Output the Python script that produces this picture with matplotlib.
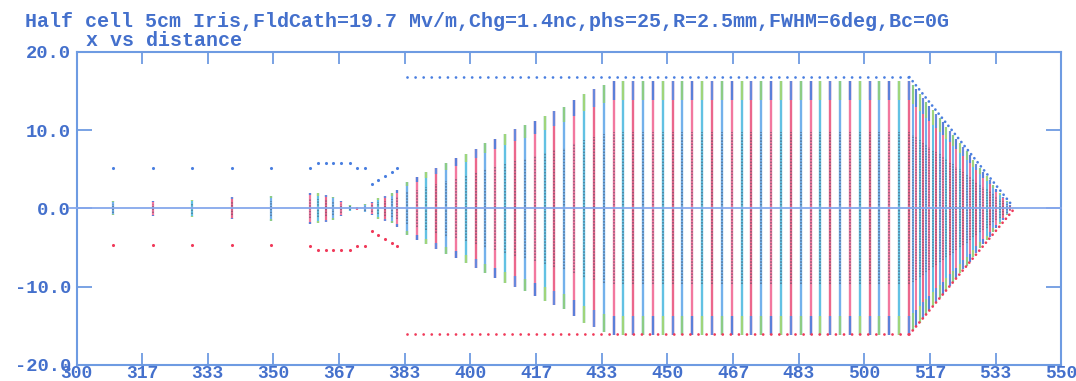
import matplotlib
matplotlib.use("Agg")
import matplotlib.pyplot as plt

# title lines
TITLE_1 = "Half cell 5cm Iris,FldCath=19.7 Mv/m,Chg=1.4nc,phs=25,R=2.5mm,FWHM=6deg,Bc=0G"
TITLE_2 = "x vs distance"

# axis ticks
x_ticks = [300, 316.7, 333.3, 350, 366.7, 383.3, 400, 416.7, 433.3, 450, 466.7, 483.3, 500, 516.7, 533.3, 550]
x_tick_labels = ["300", "317", "333", "350", "367", "383", "400", "417", "433", "450",
                 "467", "483", "500", "517", "533", "550"]
y_ticks = [-20, -10, 0, 10, 20]
y_tick_labels = ["-20.0", "-10.0", "0.0", "10.0", "20.0"]

# near the cathode: bunch snapshots and the envelope dots that go with them
near_z = [309.3, 319.3, 329.4, 339.5, 349.4, 359.3, 361.4, 363.3, 365.2, 367.1, 369.4,
          371.3, 373.2, 374.9, 376.6, 378.3, 380.0, 381.3]
near_halfwidth = [0.9, 1.0, 1.1, 1.4, 1.6, 2.0, 1.9, 1.7, 1.5, 0.95, 0.4,
                  0.2, 0.5, 0.85, 1.3, 1.6, 1.9, 2.35]
near_env_top = [5.2, 5.2, 5.2, 5.2, 5.2, 5.2, 5.75, 5.75, 5.75, 5.75, 5.75,
                5.2, 5.2, 3.1, 3.6, 4.1, 4.7, 5.2]
near_env_bot = [-4.7, -4.7, -4.7, -4.7, -4.7, -4.75, -5.3, -5.3, -5.3, -5.3, -5.3,
                -4.75, -4.75, -2.9, -3.4, -3.9, -4.4, -4.8]

# main drift: expanding beam until it fills the aperture
main_z = [383.8, 386.3, 388.8, 391.3, 393.8, 396.3, 398.8, 401.3, 403.8, 406.3,
          408.8, 411.3, 413.8, 416.3, 418.8, 421.3, 423.8, 426.3, 428.8, 431.3,
          433.8, 436.3, 438.8, 441.3, 443.8, 446.3, 448.8, 451.3, 453.8, 456.3,
          458.8, 461.3, 463.8, 466.3, 468.8, 471.3, 473.8, 476.3, 478.8, 481.3,
          483.8, 486.3, 488.8, 491.3, 493.8, 496.3, 498.8, 501.3, 503.8, 506.3,
          508.8, 511.3]
main_halfwidth = [3.4, 4.0, 4.6, 5.2, 5.8, 6.4, 7.0, 7.6, 8.3, 8.9,
                  9.5, 10.1, 10.6, 11.2, 11.8, 12.4, 12.9, 13.8, 14.6, 15.2,
                  15.8, 16.2, 16.2, 16.2, 16.2, 16.2, 16.2, 16.2, 16.2, 16.2,
                  16.2, 16.2, 16.2, 16.2, 16.2, 16.2, 16.2, 16.2, 16.2, 16.2,
                  16.2, 16.2, 16.2, 16.2, 16.2, 16.2, 16.2, 16.2, 16.2, 16.2,
                  16.2, 16.2]

# converging end
end_z = [512.3, 513.1, 514.0, 514.8, 515.7, 516.5, 517.4, 518.2, 519.1, 519.9,
         520.8, 521.6, 522.5, 523.3, 524.2, 525.0, 525.9, 526.7, 527.6, 528.4,
         529.3, 530.1, 531.0, 531.8, 532.7, 533.5, 534.4, 535.2, 536.1, 536.9]
end_halfwidth = [15.7, 15.2, 14.6, 14.1, 13.6, 13.1, 12.5, 12.0, 11.5, 11.0,
                 10.4, 9.9, 9.4, 8.9, 8.3, 7.8, 7.3, 6.8, 6.2, 5.7,
                 5.1, 4.6, 4.1, 3.6, 3.0, 2.5, 2.0, 1.5, 0.9, 0.4]

# aperture envelope (vertices of the dotted outline)
env_flat_z = [383.8, 511.4]
env_flat_top = [16.75, 16.75]
env_flat_bot = [-16.1, -16.1]
env_cone_z = [511.4, 537.6]
env_cone_top = [16.75, 0.3]
env_cone_bot = [-16.1, -0.3]

AXIS_BLUE = "#6e9be2"
TEXT_BLUE = "#4470cc"
ENV_BLUE = "#4a7fe0"
ENV_RED = "#f03a5a"
COL_COLORS = ["#5aa4e8", "#f0608e", "#46b6de", "#e84c78"]
TIP_COLORS = ["#8fd07a", "#4a80e0", "#a6d870", "#5a8ce6"]
CORE = "#3c4458"
FONT = ["Liberation Mono", "DejaVu Sans Mono"]


def draw_columns(ax, zs, hws, lw):
    for i, (z, hw) in enumerate(zip(zs, hws)):
        c = COL_COLORS[i % len(COL_COLORS)]
        t = TIP_COLORS[i % len(TIP_COLORS)]
        ax.vlines(z, -hw, hw, colors=c, linewidth=lw, alpha=0.85, zorder=2)
        ax.vlines(z, -0.6 * hw, 0.6 * hw, colors=CORE, linewidth=lw * 0.8, alpha=0.45, zorder=3,
                  linestyles=[(0, (0.8, 0.8))])
        ax.vlines(z, 0.85 * hw, hw, colors=t, linewidth=lw, alpha=0.9, zorder=3)
        ax.vlines(z, -hw, -0.85 * hw, colors=t, linewidth=lw, alpha=0.9, zorder=3)


fig = plt.figure(figsize=(10.76, 3.81), dpi=100)
ax = fig.add_axes([0.0711, 0.0420, 0.9154, 0.8223])
ax.set_xlim(300, 550)
ax.set_ylim(-20, 20)

draw_columns(ax, near_z, near_halfwidth, 1.6)
draw_columns(ax, main_z, main_halfwidth, 1.7)
draw_columns(ax, end_z, end_halfwidth, 1.5)

ax.scatter(near_z, near_env_top, s=5, color=ENV_BLUE, linewidths=0, zorder=4)
ax.scatter(near_z, near_env_bot, s=5, color=ENV_RED, linewidths=0, zorder=4)

dot_flat = (0, (0.01, 2.9))
dot_cone = (0, (0.01, 1.86))
ax.plot(env_flat_z, env_flat_top, color=ENV_BLUE, lw=2.0, linestyle=dot_flat,
        dash_capstyle="round", zorder=4)
ax.plot(env_flat_z, env_flat_bot, color=ENV_RED, lw=2.0, linestyle=dot_flat,
        dash_capstyle="round", zorder=4)
ax.plot(env_cone_z, env_cone_top, color=ENV_BLUE, lw=2.0, linestyle=dot_cone,
        dash_capstyle="round", zorder=4)
ax.plot(env_cone_z, env_cone_bot, color=ENV_RED, lw=2.0, linestyle=dot_cone,
        dash_capstyle="round", zorder=4)

# beam axis
ax.plot([298.3, 550], [0, 0], color="#86a8ec", lw=1.3, clip_on=False, zorder=5)

for s in ax.spines.values():
    s.set_color(AXIS_BLUE)
    s.set_linewidth(1.5)

ax.set_xticks(x_ticks)
ax.set_xticklabels(x_tick_labels)
ax.set_yticks(y_ticks)
ax.set_yticklabels(y_tick_labels)
ax.tick_params(axis="x", direction="in", length=8.5, width=1.3, color=AXIS_BLUE,
               top=True, bottom=True, pad=0, labelsize=13, labelcolor=TEXT_BLUE)
ax.tick_params(axis="y", direction="in", length=11, width=1.3, color=AXIS_BLUE,
               left=True, right=True, pad=4, labelsize=13.5, labelcolor=TEXT_BLUE)
for lab in ax.get_xticklabels() + ax.get_yticklabels():
    lab.set_family(FONT)
    lab.set_weight("bold")

fig.text(25 / 1076, 1 - 27 / 381, TITLE_1, family=FONT, weight="bold", fontsize=14.4,
         color=TEXT_BLUE, ha="left", va="baseline")
fig.text(86 / 1076, 1 - 45.5 / 381, TITLE_2, family=FONT, weight="bold", fontsize=14.4,
         color=TEXT_BLUE, ha="left", va="baseline")

fig.savefig("out.png", dpi=100)
